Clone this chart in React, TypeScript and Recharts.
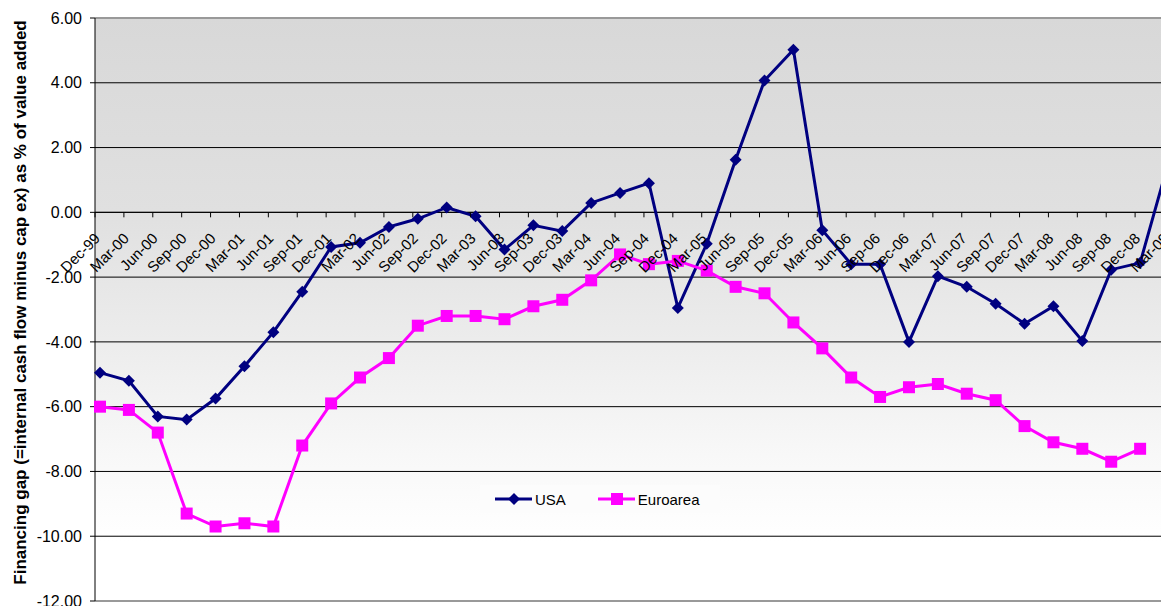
import { LineChart, Line, XAxis, YAxis, CartesianGrid, ReferenceLine } from 'recharts';

// quarterly observations, Dec-99 .. Mar-09
const quarters = [
  'Dec-99', 'Mar-00', 'Jun-00', 'Sep-00', 'Dec-00', 'Mar-01', 'Jun-01', 'Sep-01',
  'Dec-01', 'Mar-02', 'Jun-02', 'Sep-02', 'Dec-02', 'Mar-03', 'Jun-03', 'Sep-03',
  'Dec-03', 'Mar-04', 'Jun-04', 'Sep-04', 'Dec-04', 'Mar-05', 'Jun-05', 'Sep-05',
  'Dec-05', 'Mar-06', 'Jun-06', 'Sep-06', 'Dec-06', 'Mar-07', 'Jun-07', 'Sep-07',
  'Dec-07', 'Mar-08', 'Jun-08', 'Sep-08', 'Dec-08', 'Mar-09',
];

const usa = [
  -4.95, -5.2, -6.3, -6.4, -5.75, -4.75, -3.7, -2.45,
  -1.07, -0.94, -0.45, -0.2, 0.15, -0.12, -1.15, -0.4,
  -0.58, 0.29, 0.6, 0.9, -2.95, -0.97, 1.62, 4.07,
  5.02, -0.55, -1.6, -1.6, -4.0, -1.97, -2.3, -2.82,
  -3.44, -2.9, -3.97, -1.77, -1.56, 1.6,
];

const euroArea = [
  -6.0, -6.1, -6.8, -9.3, -9.7, -9.6, -9.7, -7.2,
  -5.9, -5.1, -4.5, -3.5, -3.2, -3.2, -3.3, -2.9,
  -2.7, -2.1, -1.3, -1.6, -1.5, -1.8, -2.3, -2.5,
  -3.4, -4.2, -5.1, -5.7, -5.4, -5.3, -5.6, -5.8,
  -6.6, -7.1, -7.3, -7.7, -7.3, null,
];

const yTicks = [6, 4, 2, 0, -2, -4, -6, -8, -10, -12];

const data = quarters.map((q, i) => ({ q, usa: usa[i], euro: euroArea[i] }));

const W = 1180;
const H = 606;
const TOP = 18;
const BOTTOM = 4;
const X_H = 1;
const Y_MAX = 6;
const Y_MIN = -12;
const PLOT_H = H - TOP - BOTTOM - X_H;
// pixel row of the value 0, where the category axis crosses
const zeroY = TOP + ((Y_MAX - 0) / (Y_MAX - Y_MIN)) * PLOT_H;

const FONT = '"Liberation Sans", Arial, sans-serif';

const XTick = (props: any) => {
  const { x, payload } = props;
  const ax = x + 1;
  const ay = zeroY + 27;
  return (
    <g>
      <line x1={x - 5} x2={x - 5} y1={zeroY} y2={zeroY + 5} stroke="#000" />
      <text
        x={ax}
        y={ay}
        textAnchor="end"
        transform={`rotate(-45 ${ax} ${ay})`}
        fontSize={15}
        fontFamily={FONT}
        fill="#000"
      >
        {payload.value}
      </text>
    </g>
  );
};

const Diamond = (props: any) => {
  const { cx, cy, index } = props;
  if (cx == null || cy == null) return <g key={index} />;
  const r = 6;
  return (
    <path
      key={index}
      d={`M${cx},${cy - r} L${cx + r},${cy} L${cx},${cy + r} L${cx - r},${cy} Z`}
      fill="#000080"
    />
  );
};

const Square = (props: any) => {
  const { cx, cy, index, value } = props;
  if (cx == null || cy == null || value == null) return <g key={index} />;
  const s = 12;
  return <rect key={index} x={cx - s / 2} y={cy - s / 2} width={s} height={s} fill="#FF00FF" />;
};

const LegendBox = () => (
  <div
    style={{
      position: 'absolute',
      left: 480,
      top: 485,
      width: 240,
      height: 28,
      display: 'flex',
      alignItems: 'center',
      background: '#fcfcfc',
      fontFamily: FONT,
      fontSize: 15,
      color: '#000',
    }}
  >
    <svg width={40} height={14} style={{ marginLeft: 15 }}>
      <line x1={0} x2={37} y1={7} y2={7} stroke="#000080" strokeWidth={3} />
      <path d="M19,1 L25,7 L19,13 L13,7 Z" fill="#000080" />
    </svg>
    <span>USA</span>
    <svg width={40} height={14} style={{ marginLeft: 32 }}>
      <line x1={0} x2={37} y1={7} y2={7} stroke="#FF00FF" strokeWidth={3} />
      <rect x={13} y={1} width={12} height={12} fill="#FF00FF" />
    </svg>
    <span>Euroarea</span>
  </div>
);

const YTitle = (props: any) => {
  const vb = props.viewBox || {};
  const cx = 20;
  const cy = (vb.y ?? TOP) + (vb.height ?? PLOT_H) / 2 - 7;
  return (
    <text
      x={cx}
      y={cy}
      textAnchor="middle"
      dominantBaseline="central"
      transform={`rotate(-90 ${cx} ${cy})`}
      fontSize={17}
      fontWeight="bold"
      fontFamily={FONT}
      fill="#000"
    >
      Financing gap (=internal cash flow minus cap ex) as % of value added
    </text>
  );
};

export default function App() {
  return (
    <div style={{ position: 'absolute', left: 0, top: 0, width: 1161, height: 606, overflow: 'hidden', background: '#fff' }}>
      <LineChart width={W} height={H} data={data} margin={{ top: TOP, right: 6, bottom: BOTTOM, left: 0 }}>
        <defs>
          <linearGradient id="plotBg" x1="0" y1="0" x2="0" y2="1">
            <stop offset="0%" stopColor="#d8d8d8" />
            <stop offset="33%" stopColor="#e0e0e0" />
            <stop offset="55%" stopColor="#ececec" />
            <stop offset="75%" stopColor="#f8f8f8" />
            <stop offset="90%" stopColor="#ffffff" />
            <stop offset="100%" stopColor="#ffffff" />
          </linearGradient>
        </defs>
        <CartesianGrid vertical={false} stroke="#000" fill="url(#plotBg)" fillOpacity={1} />
        <XAxis
          dataKey="q"
          height={X_H}
          axisLine={false}
          tickLine={false}
          interval={0}
          padding={{ left: 5, right: 5 }}
          tick={<XTick />}
        />
        <YAxis
          width={95}
          domain={[Y_MIN, Y_MAX]}
          ticks={yTicks}
          interval={0}
          allowDataOverflow
          tickFormatter={(v: number) => v.toFixed(2)}
          tick={{ fontSize: 16, fontFamily: FONT, fill: '#000' }}
          tickSize={5}
          tickMargin={8}
          stroke="#000"
          label={<YTitle />}
        />
        <ReferenceLine y={Y_MAX} stroke="#999" strokeWidth={2} />
        <ReferenceLine y={Y_MIN} stroke="#999" strokeWidth={2} />
        <ReferenceLine y={0} stroke="#000" />
        <Line
          dataKey="usa"
          name="USA"
          stroke="#000080"
          strokeWidth={3}
          dot={<Diamond />}
          activeDot={false}
          isAnimationActive={false}
        />
        <Line
          dataKey="euro"
          name="Euroarea"
          stroke="#FF00FF"
          strokeWidth={3}
          dot={<Square />}
          activeDot={false}
          connectNulls={false}
          isAnimationActive={false}
        />
      </LineChart>
      <LegendBox />
    </div>
  );
}
